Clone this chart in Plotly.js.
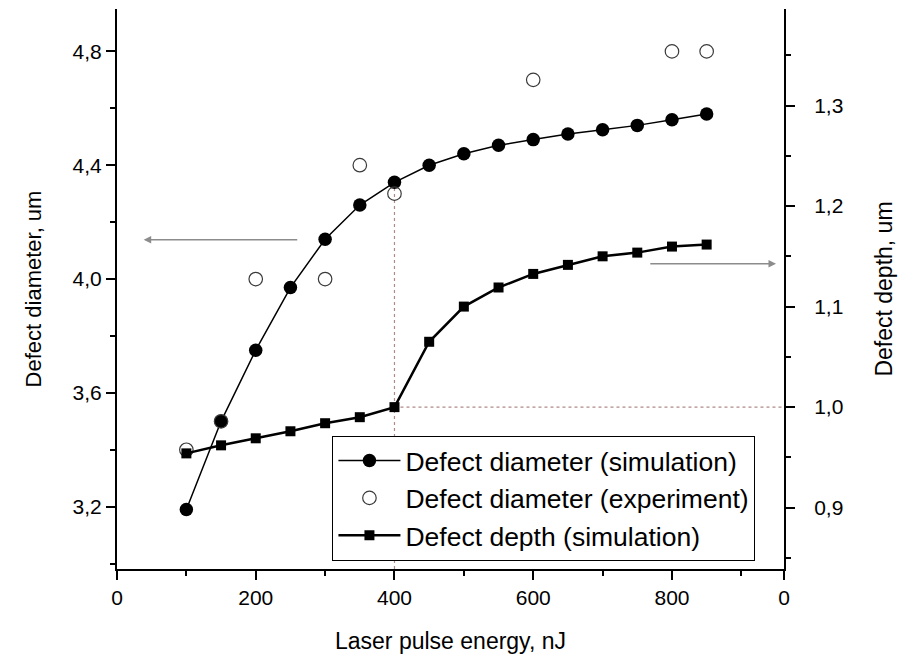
<!DOCTYPE html>
<html>
<head>
<meta charset="utf-8">
<script src="https://cdn.plot.ly/plotly-3.0.1.min.js"></script>
<style>html,body{margin:0;padding:0;background:#fff;}#chart{width:909px;height:658px;}</style>
</head>
<body>
<div id="chart"></div>
<script>
// Laser pulse energy, nJ
const energySim = [100,150,200,250,300,350,400,450,500,550,600,650,700,750,800,850];
// Defect diameter (simulation), um
const diamSim = [3.19,3.50,3.75,3.97,4.14,4.26,4.34,4.40,4.44,4.47,4.49,4.51,4.525,4.54,4.56,4.58];
// Defect diameter (experiment)
const energyExp = [100,150,200,300,350,400,600,800,850];
const diamExp = [3.40,3.50,4.00,4.00,4.40,4.30,4.70,4.80,4.80];
// Defect depth (simulation), um
const depthSim = [0.954,0.962,0.969,0.976,0.984,0.990,1.000,1.065,1.100,1.119,1.1325,1.1415,1.150,1.1537,1.1597,1.1617];

const xTickVals = [0,200,400,600,800,961.5];
const xTickText = ['0','200','400','600','800','0'];

const font = 'Arial, "Liberation Sans", sans-serif';

const traces = [
  {x: energySim, y: diamSim, name: 'Defect diameter (simulation)', type: 'scatter', mode: 'lines+markers',
   line: {color: '#000', width: 1.5}, marker: {symbol: 'circle', size: 13.5, color: '#000'}, yaxis: 'y'},
  {x: energyExp, y: diamExp, name: 'Defect diameter (experiment)', type: 'scatter', mode: 'markers',
   marker: {symbol: 'circle-open', size: 13.5, color: '#3a3a3a', line: {width: 1.2}}, yaxis: 'y'},
  {x: energySim, y: depthSim, name: 'Defect depth (simulation)', type: 'scatter', mode: 'lines+markers',
   line: {color: '#000', width: 2.5}, marker: {symbol: 'square', size: 10, color: '#000'}, yaxis: 'y2'}
];

const i400 = energySim.indexOf(400);

const layout = {
  width: 909, height: 658,
  margin: {l: 117, r: 125, t: 9, b: 89},
  paper_bgcolor: '#fff', plot_bgcolor: '#fff',
  separators: ', ',
  font: {family: font, color: '#000', size: 21},
  showlegend: true,
  legend: {x: 0.323, y: 0.238, xanchor: 'left', yanchor: 'top', bordercolor: '#000', borderwidth: 1,
           bgcolor: '#fff', font: {size: 26.5, family: font}, itemwidth: 62, tracegroupgap: 0},
  xaxis: {range: [0, 961.5], tickmode: 'array', tickvals: xTickVals, ticktext: xTickText,
          showline: true, linecolor: '#000', linewidth: 2, ticks: 'outside', ticklen: 9, tickwidth: 2,
          tickcolor: '#000', showgrid: false, zeroline: false, tickfont: {size: 21},
          minor: {tickmode: 'linear', tick0: 0, dtick: 100, ticks: 'outside', ticklen: 5, tickwidth: 2, tickcolor: '#000', showgrid: false},
          title: {text: 'Laser pulse energy, nJ', font: {size: 23}, standoff: 25}},
  yaxis: {range: [2.981, 4.949], tick0: 0, dtick: 0.4, tickformat: '.1f',
          showline: true, linecolor: '#000', linewidth: 2, ticks: 'outside', ticklen: 9, tickwidth: 2,
          tickcolor: '#000', showgrid: false, zeroline: false, tickfont: {size: 21},
          minor: {dtick: 0.2, ticks: 'outside', ticklen: 5, tickwidth: 2, tickcolor: '#000', showgrid: false},
          title: {text: 'Defect diameter, um', font: {size: 22}, standoff: 25}},
  yaxis2: {range: [0.839, 1.396], tick0: 0, dtick: 0.1, tickformat: '.1f', overlaying: 'y', side: 'right', anchor: 'x',
          showline: true, linecolor: '#000', linewidth: 2, ticks: 'outside', ticklen: 9, tickwidth: 2,
          tickcolor: '#000', showgrid: false, zeroline: false, tickfont: {size: 21}, ticklabelstandoff: 15,
          minor: {dtick: 0.05, ticks: 'outside', ticklen: 5, tickwidth: 2, tickcolor: '#000', showgrid: false},
          title: {text: 'Defect depth, um', font: {size: 23}, standoff: 33}},
  shapes: [
    {type: 'line', xref: 'x', yref: 'y', x0: energySim[i400], x1: energySim[i400], y0: 2.981, y1: diamSim[i400],
     line: {color: '#b08a8a', width: 1.2, dash: 'dot'}, layer: 'below'},
    {type: 'line', xref: 'x', yref: 'y2', x0: energySim[i400], x1: 961.5, y0: depthSim[i400], y1: depthSim[i400],
     line: {color: '#b08a8a', width: 1.2, dash: 'dot'}, layer: 'below'}
  ],
  annotations: [
    {xref: 'x', yref: 'y', axref: 'x', ayref: 'y', x: 38.5, y: 4.138, ax: 262, ay: 4.138, text: '',
     showarrow: true, arrowhead: 2, arrowsize: 1, arrowwidth: 1.5, arrowcolor: '#8c8c8c'},
    {xref: 'x', yref: 'y2', axref: 'x', ayref: 'y2', x: 950, y: 1.1425, ax: 766.6, ay: 1.1425, text: '',
     showarrow: true, arrowhead: 2, arrowsize: 1, arrowwidth: 1.5, arrowcolor: '#8c8c8c'}
  ]
};

Plotly.newPlot('chart', traces, layout, {displayModeBar: false, staticPlot: true});
</script>
</body>
</html>
